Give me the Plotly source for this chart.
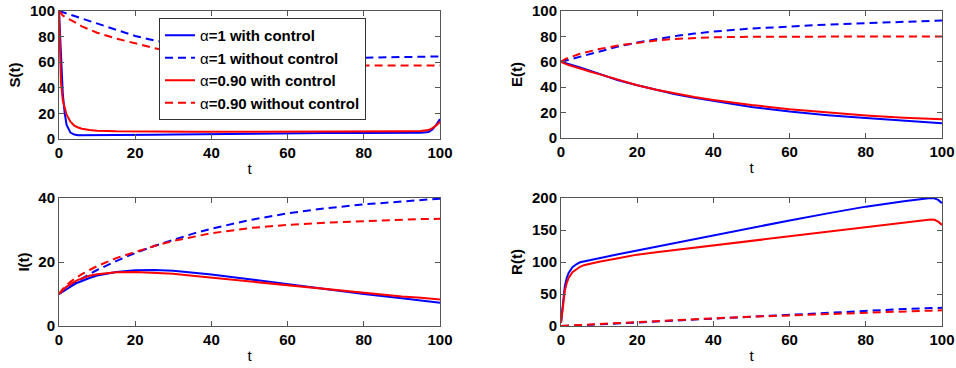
import plotly.graph_objects as go

# ---------------- data ----------------
t = [0, 0.5, 1, 1.5, 2, 3, 4, 5, 6, 8, 10, 15, 20, 25, 30, 35, 40, 50, 60, 70, 80, 90, 95, 97, 98, 99, 100]

S_a1_ctrl = [100, 60, 35, 20, 11, 5, 3.5, 3, 3, 3, 3, 3, 3.2, 3.4, 3.6, 3.8, 4, 4.3, 4.5, 4.6, 4.7, 4.8, 4.8, 5.5, 7.5, 11, 15.5]
S_a1_noctrl = [100, 99.5, 99, 98.5, 98, 97, 96, 95, 94, 92, 90, 85, 80.5, 77, 74, 71.5, 69.5, 66.5, 64.5, 63.5, 63.5, 64, 64.3, 64.4, 64.5, 64.5, 64.5]
S_a09_ctrl = [100, 45, 30, 24, 19, 13.5, 10.5, 9, 8, 7, 6.5, 6, 5.8, 5.7, 5.6, 5.6, 5.6, 5.6, 5.6, 5.7, 5.8, 6, 6.2, 7, 8.5, 10.5, 13.5]
S_a09_noctrl = [100, 98, 96.5, 95.5, 94.5, 93, 91.5, 89.5, 88, 85.5, 83, 78.5, 74.5, 71, 68, 65.5, 63.5, 60.5, 59, 58, 57.5, 57.5, 57.5, 57.5, 57.5, 57.5, 57.5]

E_a1_ctrl = [60, 59.5, 59, 58.6, 58.2, 57.3, 56.4, 55.5, 54.6, 52.6, 50.5, 45.5, 41.5, 37.8, 34.5, 31.7, 29.3, 24.5, 20.8, 18, 15.8, 13.5, 12.5, 12.2, 12, 11.8, 11.7]
E_a1_noctrl = [60, 60.4, 60.8, 61.2, 61.6, 62.4, 63.2, 64, 64.8, 66.6, 68.5, 72, 75.2, 78, 80.3, 82.2, 83.8, 86.2, 88, 89.3, 90.4, 91.5, 92, 92.2, 92.3, 92.4, 92.5]
E_a09_ctrl = [60, 59.2, 58.6, 58, 57.5, 56.5, 55.5, 54.6, 53.7, 52, 50.3, 45.6, 41.5, 38, 35, 32.3, 30, 26, 22.7, 20, 17.8, 16, 15.3, 15, 14.9, 14.8, 14.8]
E_a09_noctrl = [60, 61.2, 62, 62.7, 63.3, 64.4, 65.4, 66.3, 67.1, 68.7, 70, 72.8, 75, 76.8, 78, 78.8, 79.3, 79.7, 79.9, 80, 80, 80, 80, 80, 80, 80, 80]

I_a1_ctrl = [10, 10.4, 10.8, 11.2, 11.6, 12.3, 13, 13.6, 14.1, 15, 15.8, 16.9, 17.4, 17.5, 17.3, 16.7, 16.1, 14.6, 13, 11.4, 10, 8.7, 8, 7.7, 7.6, 7.5, 7.3]
I_a1_noctrl = [10, 10.4, 10.9, 11.3, 11.7, 12.5, 13.3, 14, 14.8, 16.2, 17.5, 20.3, 22.8, 25, 27, 28.8, 30.4, 33.1, 35.2, 36.8, 38, 39, 39.4, 39.6, 39.6, 39.7, 39.8]
I_a09_ctrl = [10, 10.7, 11.3, 11.8, 12.3, 13.1, 13.8, 14.4, 14.9, 15.7, 16.2, 16.8, 16.9, 16.7, 16.3, 15.7, 15.1, 13.9, 12.7, 11.5, 10.3, 9.2, 8.8, 8.6, 8.5, 8.4, 8.3]
I_a09_noctrl = [10, 10.9, 11.6, 12.2, 12.8, 13.8, 14.7, 15.5, 16.2, 17.5, 18.7, 21.2, 23.2, 25, 26.6, 27.9, 29, 30.6, 31.6, 32.3, 32.8, 33.2, 33.4, 33.4, 33.5, 33.5, 33.5]

R_a1_ctrl = [5, 40, 62, 75, 83, 92, 96.5, 99.5, 101, 104, 106, 112, 118, 124, 130, 136, 142, 154, 165, 176, 186.5, 195, 198.8, 200, 199.5, 197, 192]
R_a1_noctrl = [0, 0, 0.1, 0.2, 0.3, 0.6, 0.8, 1, 1.3, 1.9, 2.5, 4, 5.7, 7.3, 9, 10.5, 12, 15, 18, 21, 24, 26.5, 27.5, 28, 28.2, 28.4, 28.5]
R_a09_ctrl = [5, 35, 55, 67, 75, 84, 89, 92.5, 95, 98, 100.5, 106, 111.5, 115.2, 118.8, 122.4, 126, 133.3, 140.5, 147.8, 155, 162, 165.5, 166.5, 166, 163, 158]
R_a09_noctrl = [0, 0.2, 0.3, 0.45, 0.6, 0.9, 1.2, 1.5, 1.8, 2.4, 3, 4.6, 6.2, 7.7, 9.2, 10.6, 12, 14.5, 16.8, 19, 21, 22.8, 23.7, 24, 24.2, 24.4, 24.5]

series_names = ["α<b>=1 with control</b>", "α<b>=1 without control</b>",
                "α<b>=0.90 with control</b>", "α<b>=0.90 without control</b>"]

panels = [
    ("S(t)", [S_a1_ctrl, S_a1_noctrl, S_a09_ctrl, S_a09_noctrl], [0, 100], [0, 20, 40, 60, 80, 100]),
    ("E(t)", [E_a1_ctrl, E_a1_noctrl, E_a09_ctrl, E_a09_noctrl], [0, 100], [0, 20, 40, 60, 80, 100]),
    ("I(t)", [I_a1_ctrl, I_a1_noctrl, I_a09_ctrl, I_a09_noctrl], [0, 40], [0, 20, 40]),
    ("R(t)", [R_a1_ctrl, R_a1_noctrl, R_a09_ctrl, R_a09_noctrl], [0, 200], [0, 50, 100, 150, 200]),
]
x_ticks = [0, 20, 40, 60, 80, 100]

# ---------------- figure ----------------
W, H = 956, 368
BLUE = "rgb(0,0,255)"
RED = "rgb(255,0,0)"
styles = [(BLUE, "solid"), (BLUE, "8px,5px"), (RED, "solid"), (RED, "8px,5px")]
FONT = "Liberation Sans, Arial, sans-serif"

# domains in pixels (left,right,top,bottom)
boxes = [(59, 440, 11, 139), (561, 942, 11, 138), (59, 440, 198, 326), (561, 942, 198, 326)]

fig = go.Figure()
layout = dict(
    width=W, height=H,
    margin=dict(l=0, r=0, t=0, b=0, autoexpand=False),
    paper_bgcolor="white", plot_bgcolor="white",
    font=dict(family=FONT, size=15, color="black"),
    showlegend=True,
    legend=dict(x=159 / W, y=1 - 18 / H, xanchor="left", yanchor="top",
                bgcolor="white", bordercolor="#333", borderwidth=1,
                font=dict(size=15, family=FONT),
                tracegroupgap=0, itemwidth=30),
)

for i, (ylab, data, yr, yt) in enumerate(panels):
    k = "" if i == 0 else str(i + 1)
    xa, ya = "x" + k, "y" + k
    l, r, tp, bt = boxes[i]
    axis_common = dict(showgrid=False, zeroline=False, showline=True, linecolor="#555", linewidth=1,
                       mirror="ticks", ticks="inside", ticklen=5, tickcolor="#555", automargin=False,
                       tickfont=dict(size=15, family=FONT, weight="bold"))
    layout["xaxis" + k] = dict(domain=[l / W, r / W], range=[0, 100], tickvals=x_ticks,
                               anchor=ya, title=dict(text="t", standoff=3,
                                                     font=dict(size=15)), **axis_common)
    layout["yaxis" + k] = dict(domain=[1 - bt / H, 1 - tp / H], range=yr, tickvals=yt,
                               anchor=xa, title=dict(text="<b>" + ylab + "</b>", standoff=5,
                                                     font=dict(size=15)), **axis_common)
    for j, (vals, (col, dash)) in enumerate(zip(data, styles)):
        fig.add_trace(go.Scatter(x=t, y=vals, mode="lines", xaxis=xa, yaxis=ya,
                                 name=series_names[j], legendgroup=str(j), showlegend=(i == 0),
                                 line=dict(color=col, width=2, dash=dash)))

fig.update_layout(**layout)
fig.write_html("out.html")
